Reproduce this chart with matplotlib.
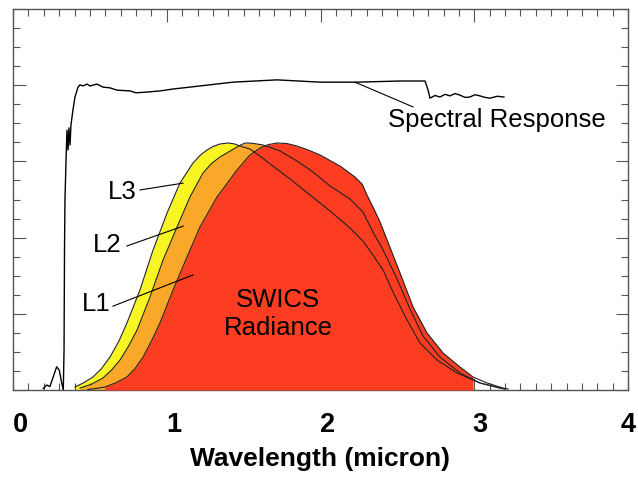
import numpy as np
import matplotlib
matplotlib.use("Agg")
import matplotlib.pyplot as plt
from matplotlib.ticker import MultipleLocator, NullFormatter
import matplotlib.transforms as mtransforms

plt.rcParams['font.family'] = ['Liberation Sans', 'DejaVu Sans']

# ---------------- data ----------------
# Spectral response (arbitrary units 0-100)
sr_x = [0.197, 0.219, 0.240, 0.262, 0.284, 0.301, 0.317, 0.327, 0.332, 0.335, 0.338,
        0.345, 0.351, 0.358, 0.364, 0.371, 0.377, 0.390, 0.403, 0.423, 0.436, 0.455,
        0.481, 0.501, 0.546, 0.585, 0.631, 0.676, 0.761, 0.800, 0.872, 0.956, 1.041,
        1.216, 1.431, 1.717, 1.997, 2.237, 2.517, 2.680, 2.700, 2.712, 2.745, 2.777,
        2.810, 2.842, 2.875, 2.907, 2.940, 2.972, 3.005, 3.037, 3.070, 3.102, 3.150, 3.193]
sr_y = [0.4, 1.3, 0.9, 3.5, 6.1, 5.2, 1.8, 0.0, 10.5, 36.7, 49.9,
        60.4, 68.2, 63.0, 68.8, 64.3, 69.6, 73.5, 76.9, 79.5, 80.1, 79.8,
        80.3, 79.8, 80.3, 79.5, 79.3, 78.7, 78.5, 78.0, 78.2, 78.5, 79.0,
        79.8, 80.8, 81.4, 80.8, 80.8, 81.1, 81.1, 78.7, 76.6, 77.3, 76.9,
        77.6, 77.2, 77.8, 77.4, 76.8, 76.9, 77.5, 77.2, 76.8, 76.6, 77.1, 76.9]

# L3 radiance
l3_x = [0.403, 0.460, 0.520, 0.575, 0.631, 0.690, 0.741, 0.826, 0.911, 1.002, 1.086,
        1.171, 1.220, 1.262, 1.300, 1.346, 1.398, 1.440, 1.476, 1.541, 1.600, 1.672,
        1.802, 1.932, 2.062, 2.192, 2.276, 2.341, 2.407, 2.472, 2.563, 2.647, 2.758,
        2.888, 3.037, 3.167, 3.200]
l3_y = [0.79, 1.90, 3.41, 5.60, 8.66, 12.90, 17.59, 26.25, 36.75, 46.46, 54.33,
        59.58, 61.70, 62.99, 63.90, 64.57, 64.83, 64.60, 64.04, 63.25, 61.60, 59.32,
        55.38, 51.18, 46.98, 42.52, 39.11, 35.43, 31.50, 25.72, 18.37, 12.34, 7.87,
        4.46, 1.84, 0.52, 0.26]

# L2 radiance
l2_x = [0.436, 0.510, 0.585, 0.640, 0.696, 0.750, 0.807, 0.891, 0.976, 1.067, 1.151,
        1.236, 1.290, 1.346, 1.424, 1.470, 1.509, 1.560, 1.626, 1.680, 1.737, 1.847,
        1.951, 2.062, 2.192, 2.276, 2.341, 2.407, 2.498, 2.582, 2.667, 2.777, 2.907,
        3.037, 3.167, 3.200]
l2_y = [0.52, 1.50, 3.15, 5.20, 7.87, 11.40, 15.75, 24.41, 34.12, 42.78, 50.66,
        56.96, 59.40, 61.15, 62.99, 64.10, 64.83, 64.75, 64.30, 63.60, 62.73, 60.10,
        57.22, 53.54, 50.13, 46.72, 41.47, 36.75, 29.13, 21.26, 14.17, 8.66, 4.46,
        1.84, 0.52, 0.26]

# L1 radiance
l1_x = [0.488, 0.540, 0.598, 0.670, 0.741, 0.795, 0.846, 0.900, 0.956, 1.041, 1.132,
        1.216, 1.327, 1.457, 1.541, 1.607, 1.660, 1.717, 1.780, 1.847, 1.920, 1.997,
        2.127, 2.224, 2.270, 2.302, 2.341, 2.387, 2.433, 2.517, 2.602, 2.693, 2.797,
        2.907, 2.992, 3.083, 3.187, 3.220]
l1_y = [0.13, 0.40, 0.79, 1.90, 3.41, 5.70, 8.66, 12.80, 17.59, 26.25, 34.91,
        42.78, 50.66, 57.74, 61.68, 63.52, 64.40, 64.83, 64.70, 64.04, 63.00, 61.68,
        58.79, 55.91, 54.07, 51.18, 48.03, 44.09, 39.37, 30.71, 21.78, 14.96, 9.71,
        6.04, 3.41, 1.84, 0.52, 0.26]

x_ticks = [0, 1, 2, 3, 4]

# ---------------- figure ----------------
fig = plt.figure(figsize=(6.38, 4.80), dpi=100)
ax = fig.add_axes([13/638, 90/480, 615/638, 381/480])

l1x, l1y = np.array(l1_x), np.array(l1_y)
l2x, l2y = np.array(l2_x), np.array(l2_y)
l3x, l3y = np.array(l3_x), np.array(l3_y)

ax.fill_between(l3x, l3y, where=l3x <= 3.0, color='#F8F523', lw=0, zorder=1)
ax.fill_between(l2x, l2y, where=l2x <= 3.0, color='#F9A82A', lw=0, zorder=2)
ax.fill_between(l1x, l1y, where=(l1x >= 0.59) & (l1x <= 3.0), color='#FC3D22', lw=0, zorder=3)

for xx, yy in [(l3x, l3y), (l2x, l2y), (l1x, l1y)]:
    ax.plot(xx, yy, color='#222222', lw=0.8, zorder=4)

ax.plot(sr_x, sr_y, color='black', lw=1.0, zorder=5)

# annotations
fs = 18.5
ax.text(3.148, 70.9, 'Spectral Response', fontsize=fs, ha='center', va='center')
ax.plot([2.224, 2.602], [80.8, 74.3], color='black', lw=0.8)
ax.text(0.709, 52.0, 'L3', fontsize=fs, ha='center', va='center')
ax.plot([0.826, 1.106], [52.5, 54.3], color='black', lw=0.8, zorder=6)
ax.text(0.611, 38.1, 'L2', fontsize=fs, ha='center', va='center')
ax.plot([0.741, 1.106], [37.8, 43.0], color='black', lw=0.8, zorder=6)
ax.text(0.540, 22.6, 'L1', fontsize=fs, ha='center', va='center')
ax.plot([0.650, 1.171], [22.0, 30.2], color='black', lw=0.8, zorder=6)
ax.text(1.724, 23.6, 'SWICS', fontsize=fs, ha='center', va='center', zorder=7)
ax.text(1.724, 16.3, 'Radiance', fontsize=fs, ha='center', va='center', zorder=7)

ax.set_xlim(0, 4)
ax.set_ylim(0, 100)
ax.xaxis.set_major_locator(MultipleLocator(1))
ax.xaxis.set_minor_locator(MultipleLocator(0.1))
ax.yaxis.set_major_locator(MultipleLocator(20))
ax.yaxis.set_minor_locator(MultipleLocator(5))
ax.yaxis.set_major_formatter(NullFormatter())
ax.set_xticks(x_ticks)
ax.set_xticklabels([str(v) for v in x_ticks], fontsize=19.5, fontweight='bold')
ax.tick_params(which='major', direction='in', top=True, right=True, length=9,
               width=0.8, color='#555555', pad=16)
ax.tick_params(which='minor', direction='in', top=True, right=True, length=5,
               width=0.8, color='#555555')
for s in ax.spines.values():
    s.set_color('#555555')
    s.set_linewidth(1.0)

label_shift_px = [7, 7, 7, 6, 0]
for lab, dx in zip(ax.get_xticklabels(), label_shift_px):
    off = mtransforms.ScaledTranslation(dx/100, 0, fig.dpi_scale_trans)
    lab.set_transform(lab.get_transform() + off)

ax.set_xlabel('Wavelength (micron)', fontsize=19, fontweight='bold', labelpad=6)

fig.savefig('out.png', dpi=100)
